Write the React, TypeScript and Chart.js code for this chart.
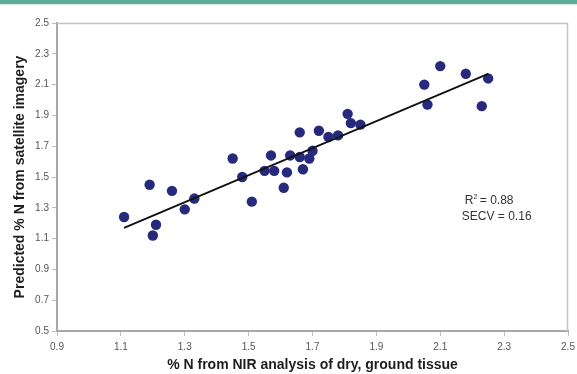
import React, { useEffect, useRef } from "react";
import { Chart, registerables } from "chart.js";

Chart.register(...registerables);

const measuredN = [1.11, 1.19, 1.21, 1.2, 1.26, 1.3, 1.33, 1.45, 1.48, 1.51, 1.55, 1.57, 1.58, 1.61, 1.62, 1.63, 1.66, 1.66, 1.67, 1.69, 1.7, 1.72, 1.75, 1.78, 1.81, 1.82, 1.85, 2.05, 2.06, 2.1, 2.18, 2.23, 2.25];
const predictedN = [1.24, 1.45, 1.19, 1.12, 1.41, 1.29, 1.36, 1.62, 1.5, 1.34, 1.54, 1.64, 1.54, 1.43, 1.53, 1.64, 1.79, 1.63, 1.55, 1.62, 1.67, 1.8, 1.76, 1.77, 1.91, 1.85, 1.84, 2.1, 1.97, 2.22, 2.17, 1.96, 2.14];
const trendX = [1.11, 2.25];
const trendY = [1.17, 2.17];
const xTicks = [0.9, 1.1, 1.3, 1.5, 1.7, 1.9, 2.1, 2.3, 2.5];
const yTicks = [0.5, 0.7, 0.9, 1.1, 1.3, 1.5, 1.7, 1.9, 2.1, 2.3, 2.5];
const statsR2 = "0.88";
const statsSECV = "0.16";

const FONT = "'Liberation Sans', Arial, sans-serif";

export default function App() {
  const ref = useRef<HTMLCanvasElement | null>(null);

  useEffect(() => {
    if (!ref.current) return;
    const decor = {
      id: "decor",
      beforeDraw(chart: any) {
        const ctx = chart.ctx;
        ctx.save();
        ctx.fillStyle = "#ffffff";
        ctx.fillRect(0, 0, chart.width, chart.height);
        ctx.fillStyle = "#5fab98";
        ctx.fillRect(0, 0, chart.width, 4);
        ctx.fillStyle = "#d6ebe4";
        ctx.fillRect(0, 4, chart.width, 1);
        ctx.restore();
      },
      afterDraw(chart: any) {
        const { ctx, chartArea: a } = chart;
        ctx.save();
        ctx.strokeStyle = "#c4c4c4";
        ctx.lineWidth = 1.5;
        ctx.beginPath();
        ctx.moveTo(a.left, a.top + 0.5);
        ctx.lineTo(a.right - 0.5, a.top + 0.5);
        ctx.lineTo(a.right - 0.5, a.bottom);
        ctx.stroke();
        const xs = chart.scales.x;
        const ys = chart.scales.y;
        const px = xs.getPixelForValue(2.177);
        const py = ys.getPixelForValue(1.345);
        ctx.fillStyle = "#333333";
        ctx.textBaseline = "middle";
        ctx.textAlign = "left";
        ctx.font = `12px ${FONT}`;
        ctx.fillText("R", px, py);
        const rw = ctx.measureText("R").width;
        ctx.font = `7px ${FONT}`;
        ctx.fillText("2", px + rw, py - 4);
        ctx.font = `12px ${FONT}`;
        ctx.fillText(" = " + statsR2, px + rw + 3, py);
        ctx.fillText("SECV = " + statsSECV, px - 3, py + 16);
        ctx.restore();
      },
    };

    const chart = new Chart(ref.current, {
      type: "scatter",
      data: {
        datasets: [
          {
            label: "points",
            data: measuredN.map((x, i) => ({ x, y: predictedN[i] })),
            backgroundColor: "#27297d",
            borderColor: "#27297d",
            borderWidth: 0,
            pointRadius: 5.2,
            order: 2,
          },
          {
            type: "line",
            label: "trend",
            data: trendX.map((x, i) => ({ x, y: trendY[i] })),
            borderColor: "#111111",
            borderWidth: 1.8,
            pointRadius: 0,
            fill: false,
            order: 1,
          } as any,
        ],
      },
      options: {
        responsive: false,
        animation: false,
        layout: { padding: { top: 23, right: 9, left: 0, bottom: 0 } },
        plugins: { legend: { display: false }, tooltip: { enabled: false } },
        scales: {
          x: {
            type: "linear",
            min: 0.9,
            max: 2.5,
            afterBuildTicks: (s: any) => {
              s.ticks = xTicks.map((v) => ({ value: v }));
            },
            afterFit: (s: any) => {
              s.height = 43;
              s.paddingRight = 0;
              s.paddingLeft = 0;
            },
            grid: { drawOnChartArea: false, drawTicks: true, tickLength: 5, color: "#bdbdbd" },
            border: { color: "#a8a8a8", width: 2 },
            ticks: {
              padding: 5,
              color: "#555555",
              font: { family: FONT, size: 10 },
              callback: (v: any) => Number(v).toFixed(1),
            },
            title: {
              display: true,
              text: "% N from NIR analysis of dry, ground tissue",
              color: "#1e1e1e",
              font: { family: FONT, size: 14, weight: "bold", lineHeight: 1 },
              padding: { top: 0, bottom: 2 },
            },
          },
          y: {
            type: "linear",
            min: 0.5,
            max: 2.5,
            afterBuildTicks: (s: any) => {
              s.ticks = yTicks.map((v) => ({ value: v }));
            },
            afterFit: (s: any) => {
              s.width = 57;
            },
            grid: { drawOnChartArea: false, drawTicks: true, tickLength: 5, color: "#bdbdbd" },
            border: { color: "#a8a8a8", width: 2 },
            ticks: {
              padding: 3,
              color: "#555555",
              font: { family: FONT, size: 10 },
              callback: (v: any) => Number(v).toFixed(1),
            },
            title: {
              display: true,
              text: "Predicted % N from satellite imagery",
              color: "#1e1e1e",
              font: { family: FONT, size: 14, weight: "bold", lineHeight: 1 },
              padding: { top: 13, bottom: 0 },
            },
          },
        },
      },
      plugins: [decor],
    });
    return () => chart.destroy();
  }, []);

  return (
    <div style={{ position: "absolute", left: 0, top: 0, width: 577, height: 374 }}>
      <canvas ref={ref} width={577} height={374} style={{ display: "block" }} />
    </div>
  );
}
